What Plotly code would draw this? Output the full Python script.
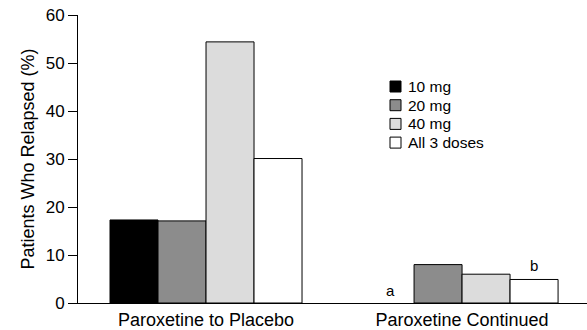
import plotly.graph_objects as go

categories = ["Paroxetine to Placebo", "Paroxetine Continued"]
series_names = ["10 mg", "20 mg", "40 mg", "All 3 doses"]
values_10mg = [17.3, 0.0]
values_20mg = [17.1, 8.0]
values_40mg = [54.4, 6.0]
values_all = [30.1, 4.9]
colors = ["#000000", "#8c8c8c", "#dcdcdc", "#ffffff"]
y_ticks = [0, 10, 20, 30, 40, 50, 60]

FONT = "Liberation Sans, Arial, Helvetica, sans-serif"

W, H = 587, 330
ML, MR, MT, MB = 78, 0, 15, 27
PW, PH = W - ML - MR, H - MT - MB


def px_x(px):
    return (px - ML) / PW


def px_y(py):
    return (H - MB - py) / PH


fig = go.Figure()
for name, vals, col in zip(series_names, [values_10mg, values_20mg, values_40mg, values_all], colors):
    fig.add_trace(go.Bar(
        x=categories, y=vals, name=name,
        marker=dict(color=col,
                    line=dict(color="#000000", width=[1 if v > 0 else 0 for v in vals])),
        showlegend=False,
    ))

fig.add_annotation(x=0.71875, y=2.7, text="a", showarrow=False,
                   font=dict(size=15, color="#000000", family=FONT))
fig.add_annotation(x=1.28125, y=7.9, text="b", showarrow=False,
                   font=dict(size=15, color="#000000", family=FONT))

# manual legend
leg_x0, leg_top, leg_sq, leg_step = 390, 81, 11, 18.7
for i, (name, col) in enumerate(zip(series_names, colors)):
    top = leg_top + i * leg_step
    fig.add_shape(type="rect", xref="paper", yref="paper",
                  x0=px_x(leg_x0), x1=px_x(leg_x0 + leg_sq),
                  y0=px_y(top + leg_sq), y1=px_y(top),
                  fillcolor=col, line=dict(color="#000000", width=1))
    fig.add_annotation(xref="paper", yref="paper", x=px_x(leg_x0 + leg_sq + 5),
                       y=px_y(top + leg_sq / 2), text=name, showarrow=False,
                       xanchor="left", yanchor="middle",
                       font=dict(size=15.5, color="#000000", family=FONT))

fig.update_layout(
    width=W, height=H,
    margin=dict(l=ML, r=MR, t=MT, b=MB),
    paper_bgcolor="white", plot_bgcolor="white",
    barmode="group", bargap=0.25, bargroupgap=0,
    font=dict(family=FONT, size=16, color="#000000"),
    showlegend=False,
    xaxis=dict(range=[-0.5, 1.488], showline=True, linecolor="#000000", linewidth=1,
               ticks="", showgrid=False, zeroline=False, tickfont=dict(size=18),
               automargin=False, ticklabelstandoff=0),
    yaxis=dict(range=[0, 60], tickvals=y_ticks, showline=True, linecolor="#000000",
               linewidth=1, ticks="outside", ticklen=9, tickcolor="#000000",
               showgrid=False, zeroline=False, tickfont=dict(size=17),
               automargin=False,
               title=dict(text="Patients Who Relapsed (%)", font=dict(size=18), standoff=6)),
)

fig.write_html("out.html", config={"displayModeBar": False},
               post_script="document.body.style.margin='0px';")
